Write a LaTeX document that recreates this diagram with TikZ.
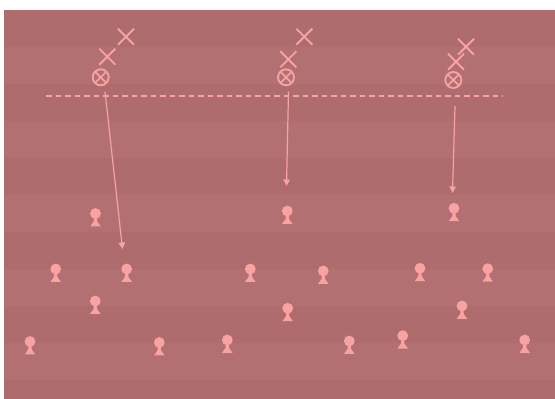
\documentclass[tikz,border=0pt]{standalone}
\usetikzlibrary{arrows.meta}
\definecolor{bgA}{HTML}{AF6C6F}
\definecolor{bgB}{HTML}{B27073}
\definecolor{fg}{HTML}{F8A2A2}
\tikzset{
  pawn/.pic={
    \fill[fg] (0,0) circle (5.4);
    \fill[fg] (-1.4,3) -- (-1.8,8) -- (-5.2,12.8) -- (5.2,12.8) -- (1.8,8) -- (1.4,3) -- cycle;
  },
  xmark/.pic={
    \draw[fg, line width=1.9pt] (-8,-8) -- (8,8) (-8,8) -- (8,-8);
  },
  otimes/.style={circle, draw=fg, line width=1.9pt, minimum size=16pt, inner sep=0pt,
    path picture={\draw[fg, line width=1.7pt]
      (path picture bounding box.north west) -- (path picture bounding box.south east)
      (path picture bounding box.north east) -- (path picture bounding box.south west);}},
  move/.style={draw=fg, line width=1.2pt, -{Triangle[length=6.5pt,width=6.5pt]}},
  rule/.style={draw=fg, line width=1.6pt, dash pattern=on 5.5pt off 4pt}
}
\begin{document}
\begin{tikzpicture}[x=1pt,y=-1pt]
\useasboundingbox (0,0) rectangle (555,399);
\fill[white] (0,0) rectangle (555,399);
% striped field
\foreach \i in {0,...,10} {
  \pgfmathsetmacro{\ya}{10+\i*37}
  \pgfmathsetmacro{\yb}{min(399,10+(\i+1)*37)}
  \ifodd\i
    \fill[bgB] (4,\ya) rectangle (555,\yb);
  \else
    \fill[bgA] (4,\ya) rectangle (555,\yb);
  \fi
}
% dashed line
\coordinate (dl) at (46,95.7);
\coordinate (dr) at (503,95.7);
\draw[rule] (dl) -- (dr);
% symbols
\node[otimes] (o1) at (100.7,77.3) {};
\node[otimes] (o2) at (286,77.3) {};
\node[otimes] (o3) at (453.3,80) {};
\pic at (107.3,56.7) {xmark};
\pic at (126,36.7) {xmark};
\pic at (288.3,59.3) {xmark};
\pic at (304.3,36.7) {xmark};
\pic at (456,61.7) {xmark};
\pic at (466,46.7) {xmark};
% pawns
\foreach \x/\y in {95.5/213.5, 55.7/269, 126.7/269, 95.3/301, 30/341.5, 159.3/342.5,
  287.3/211, 250.3/269, 323.3/271, 287.7/308.3, 227.3/340, 349.3/341,
  454/208.3, 420/268.3, 487.7/268.7, 462/306, 402.7/335.7, 524.7/340} {
  \pic at (\x,\y) {pawn};
}
% arrows
\coordinate (s1) at (105,91.5);
\coordinate (t1) at (122.5,249);
\coordinate (s2) at (288.5,91.5);
\coordinate (t2) at (286.5,186);
\coordinate (s3) at (455,106);
\coordinate (t3) at (452.5,193);
\draw[move] (s1) -- (t1);
\draw[move] (s2) -- (t2);
\draw[move] (s3) -- (t3);
\end{tikzpicture}
\end{document}
